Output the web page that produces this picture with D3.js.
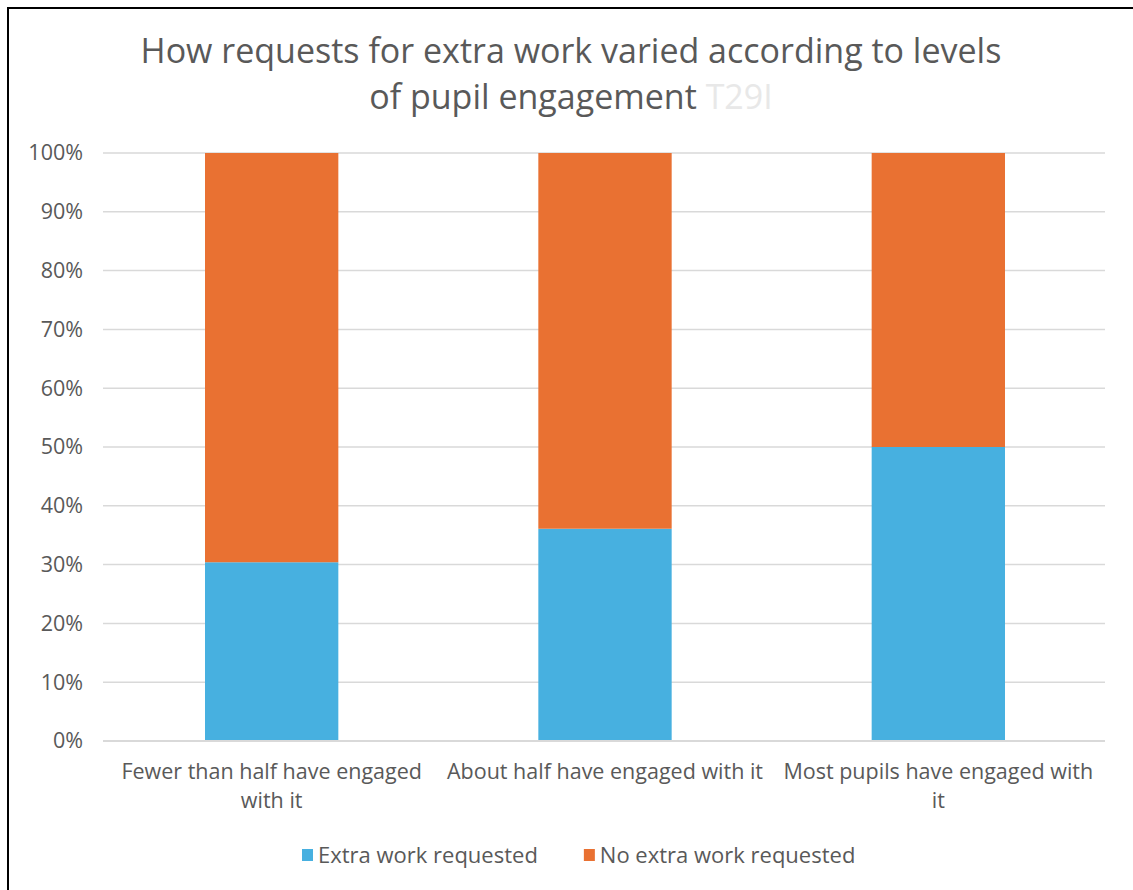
<!DOCTYPE html>
<html>
<head>
<meta charset="utf-8">
<script src="https://cdn.jsdelivr.net/npm/d3@7"></script>
<style>
  body { margin: 0; background: #fff; }
  svg text { font-family: "Open Sans", Roboto, sans-serif; }
</style>
</head>
<body>
<div id="chart"></div>
<script>
// chart data
const categories = ["Fewer than half have engaged with it", "About half have engaged with it", "Most pupils have engaged with it"]
const seriesNames = ["Extra work requested", "No extra work requested"]
const extraWork = [30.4, 36.1, 50.0]
const noExtraWork = [69.6, 63.9, 50.0]
const yTicks = [0, 10, 20, 30, 40, 50, 60, 70, 80, 90, 100]
const colors = ["#47b0e0", "#e97132"]

const W = 1133, H = 890
const margin = { top: 153, right: 28, bottom: 149, left: 105 }
const width = W - margin.left - margin.right
const height = H - margin.top - margin.bottom

const svg = d3.select("#chart").append("svg")
    .attr("width", W)
    .attr("height", H)

// outer frame (only left and top edges show in the picture)
svg.append("rect")
    .attr("x", 8).attr("y", 8)
    .attr("width", W + 20).attr("height", H + 20)
    .style("fill", "none")
    .style("stroke", "#000")
    .style("stroke-width", 2)

const g = svg.append("g")
    .attr("transform", "translate(" + margin.left + "," + margin.top + ")")

const x = d3.scaleBand()
    .domain(categories)
    .range([0, width])
    .paddingInner(0.6)
    .paddingOuter(0.3)

const y = d3.scaleLinear()
    .domain([0, 100])
    .range([height, 0])

// gridlines
g.selectAll("line.grid")
    .data(yTicks)
    .enter()
    .append("line")
    .attr("class", "grid")
    .attr("x1", -2)
    .attr("x2", width)
    .attr("y1", d => y(d))
    .attr("y2", d => y(d))
    .style("stroke", "#d9d9d9")
    .style("stroke-width", 1.5)

// stacked data
const rows = categories.map((c, i) => ({ cat: c, extra: extraWork[i], none: noExtraWork[i] }))
const stack = d3.stack().keys(["extra", "none"])(rows)

g.selectAll("g.series")
    .data(stack)
    .enter()
    .append("g")
    .attr("class", "series")
    .style("fill", (d, i) => colors[i])
    .selectAll("rect")
    .data(d => d)
    .enter()
    .append("rect")
    .attr("x", d => x(d.data.cat))
    .attr("y", d => y(d[1]))
    .attr("width", x.bandwidth())
    .attr("height", d => y(d[0]) - y(d[1]))

// baseline
g.append("line")
    .attr("x1", -2).attr("x2", width)
    .attr("y1", y(0)).attr("y2", y(0))
    .style("stroke", "#d9d9d9")
    .style("stroke-width", 2)

// y axis
const yAxis = d3.axisLeft(y)
    .tickValues(yTicks)
    .tickFormat(d => d + "%")
    .tickSize(0)
    .tickPadding(22)

g.append("g")
    .attr("class", "y-axis")
    .call(yAxis)
    .call(a => a.select(".domain").remove())
    .selectAll("text")
    .style("font-size", "21.5px")
    .style("fill", "#595959")

// x axis labels, wrapped
const xAxis = d3.axisBottom(x).tickSize(0).tickPadding(23)
const xg = g.append("g")
    .attr("class", "x-axis")
    .attr("transform", "translate(0," + height + ")")
    .call(xAxis)
    .call(a => a.select(".domain").remove())

xg.selectAll("text")
    .style("font-size", "21.5px")
    .style("fill", "#595959")
    .call(wrap, x.step() - 12)

function wrap(texts, maxW) {
    texts.each(function() {
        const t = d3.select(this)
        const words = t.text().split(" ")
        const y0 = t.attr("y")
        t.text(null)
        let line = []
        let lineNo = 0
        let tspan = t.append("tspan").attr("x", 0).attr("y", y0).attr("dy", "0.71em")
        words.forEach(w => {
            line.push(w)
            tspan.text(line.join(" "))
            if (tspan.node().getComputedTextLength() > maxW && line.length > 1) {
                line.pop()
                tspan.text(line.join(" "))
                line = [w]
                lineNo++
                tspan = t.append("tspan").attr("x", 0).attr("y", y0)
                    .attr("dy", (0.71 + lineNo * 1.35) + "em").text(w)
            }
        })
    })
}

// title
const title = svg.append("text")
    .attr("x", 571)
    .attr("y", 63)
    .style("text-anchor", "middle")
    .style("font-size", "34px")
    .style("fill", "#595959")
title.append("tspan").attr("x", 571).text("How requests for extra work varied according to levels")
const t2 = title.append("tspan").attr("x", 571).attr("dy", 46)
t2.append("tspan").text("of pupil engagement ")
t2.append("tspan").style("fill", "#e8e8e8").text("T29I")

// legend
const legend = svg.append("g")
    .attr("transform", "translate(302,855)")

let lx = 0
seriesNames.forEach((name, i) => {
    const item = legend.append("g").attr("transform", "translate(" + lx + ",0)")
    item.append("rect")
        .attr("x", 0).attr("y", -6)
        .attr("width", 11).attr("height", 12)
        .style("fill", colors[i])
    const txt = item.append("text")
        .attr("x", 16)
        .attr("dy", "0.35em")
        .style("font-size", "22px")
        .style("fill", "#595959")
        .text(name)
    lx += 16 + txt.node().getComputedTextLength() + 46
})
</script>
</body>
</html>
